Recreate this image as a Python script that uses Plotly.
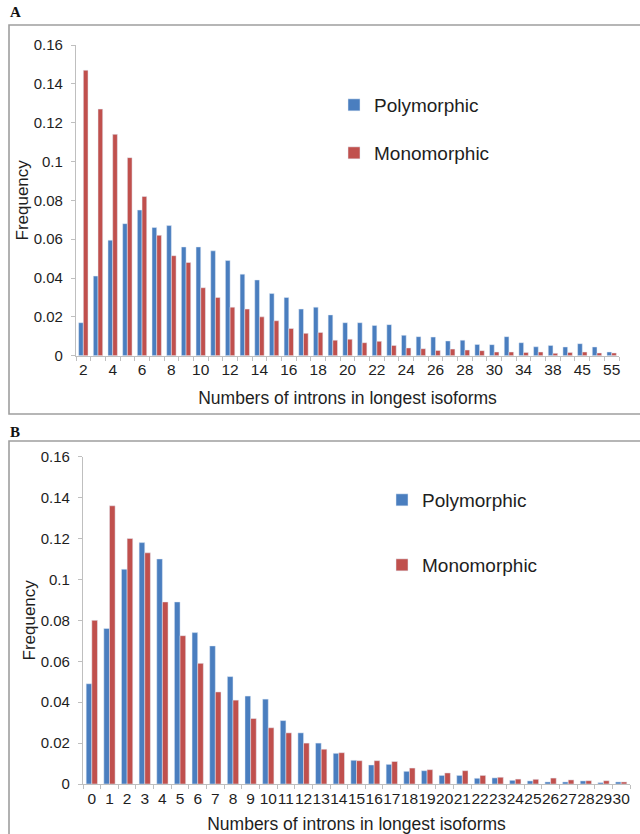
import plotly.graph_objects as go

# ---------------- data ----------------
cats_a = [str(v) for v in range(2, 31)] + ["32", "34", "36", "38", "40", "45", "50", "55"]
tick_labels_a = ["2", "4", "6", "8", "10", "12", "14", "16", "18", "20", "22", "24", "26", "28", "30",
                 "34", "38", "45", "55"]
poly_a = [0.017, 0.041, 0.0595, 0.068, 0.075, 0.066, 0.067, 0.056, 0.056, 0.054,
          0.049, 0.042, 0.039, 0.032, 0.030, 0.024, 0.025, 0.021, 0.017, 0.017,
          0.0156, 0.016, 0.0105, 0.0098, 0.0096, 0.0076, 0.008, 0.0058, 0.0057,
          0.0098, 0.0067, 0.0046, 0.0053, 0.0045, 0.0062, 0.0045, 0.0019]
mono_a = [0.147, 0.127, 0.114, 0.102, 0.082, 0.062, 0.0515, 0.048, 0.035, 0.030,
          0.025, 0.024, 0.020, 0.018, 0.014, 0.0115, 0.012, 0.008, 0.0085, 0.0067,
          0.0074, 0.0053, 0.004, 0.0036, 0.0027, 0.0034, 0.0029, 0.0026, 0.0019,
          0.0019, 0.0017, 0.0019, 0.0012, 0.0017, 0.0019, 0.0014, 0.0014]

cats_b = [str(v) for v in range(0, 31)]
poly_b = [0.049, 0.076, 0.105, 0.118, 0.110, 0.089, 0.074, 0.0675, 0.0525, 0.043,
          0.0415, 0.031, 0.025, 0.020, 0.015, 0.0116, 0.0093, 0.0096, 0.0062, 0.0065,
          0.0042, 0.0042, 0.0028, 0.003, 0.0018, 0.0015, 0.001, 0.001, 0.0015, 0.0007, 0.001]
mono_b = [0.080, 0.136, 0.120, 0.113, 0.089, 0.0725, 0.059, 0.045, 0.041, 0.032,
          0.0275, 0.025, 0.020, 0.017, 0.0153, 0.0114, 0.0114, 0.011, 0.0078, 0.007,
          0.0054, 0.0065, 0.0042, 0.0033, 0.0024, 0.0023, 0.0029, 0.002, 0.0016, 0.0016, 0.001]

y_ticks = [0, 0.02, 0.04, 0.06, 0.08, 0.1, 0.12, 0.14, 0.16]
y_tick_text = ["0", "0.02", "0.04", "0.06", "0.08", "0.1", "0.12", "0.14", "0.16"]

series_names = ["Polymorphic", "Monomorphic"]
x_title = "Numbers of introns in longest isoforms"
y_title = "Frequency"

# ---------------- style ----------------
W, H = 640, 834
BLUE = "#4A7EBF"
RED = "#C0504D"
FONT = "Liberation Sans, Arial, sans-serif"
TXT = "#1E1E1E"
AX = "#BFBFBF"


def py(px):
    return 1 - px / H


def pxx(px):
    return px / W


fig = go.Figure()

fig.add_trace(go.Bar(x=cats_a, y=poly_a, name=series_names[0], marker_color=BLUE,
                     xaxis="x", yaxis="y", legend="legend"))
fig.add_trace(go.Bar(x=cats_a, y=mono_a, name=series_names[1], marker_color=RED,
                     xaxis="x", yaxis="y", legend="legend2"))
fig.add_trace(go.Bar(x=cats_b, y=poly_b, name=series_names[0], marker_color=BLUE,
                     xaxis="x2", yaxis="y2", legend="legend3"))
fig.add_trace(go.Bar(x=cats_b, y=mono_b, name=series_names[1], marker_color=RED,
                     xaxis="x2", yaxis="y2", legend="legend4"))

tick_text_a = [c if c in tick_labels_a and i % 2 == 0 else "" for i, c in enumerate(cats_a)]

common_x = dict(type="category", showline=True, linecolor=AX, linewidth=1.3,
                ticks="outside", tickson="boundaries", ticklen=4, tickcolor=AX,
                tickangle=0, showgrid=False, zeroline=False, automargin=False,
                tickfont=dict(family=FONT, size=15.5, color=TXT))
common_y = dict(range=[0, 0.16], tickmode="array", tickvals=y_ticks, ticktext=y_tick_text,
                showline=True, linecolor=AX, linewidth=1.3, ticks="outside", ticklen=4,
                tickcolor=AX, showgrid=False, zeroline=False, ticklabelstandoff=5,
                automargin=False,
                tickfont=dict(family=FONT, size=15, color=TXT),
                title=dict(text=y_title, font=dict(family=FONT, size=17, color=TXT), standoff=0))

fig.update_layout(
    width=W, height=H,
    margin=dict(l=0, r=0, t=0, b=0, autoexpand=False),
    paper_bgcolor="white", plot_bgcolor="white",
    barmode="group", bargap=0.36, bargroupgap=0.0,
    showlegend=True,
    font=dict(family=FONT, color=TXT),
    xaxis=dict(domain=[pxx(76), pxx(619)], anchor="y",
               tickmode="array", tickvals=cats_a, ticktext=tick_text_a,
               title=dict(text=x_title, font=dict(family=FONT, size=17.5, color=TXT), standoff=14),
               **common_x),
    yaxis=dict(domain=[py(355.7), py(45)], anchor="x", **common_y),
    xaxis2=dict(domain=[pxx(83), pxx(630)], anchor="y2",
                tickmode="array", tickvals=cats_b, ticktext=cats_b,
                title=dict(text=x_title, font=dict(family=FONT, size=17.5, color=TXT), standoff=14),
                **common_x),
    yaxis2=dict(domain=[py(784), py(456.7)], anchor="x2", **common_y),
)

leg_font = dict(family=FONT, size=19, color=TXT)
leg_common = dict(xanchor="left", yanchor="middle", bgcolor="rgba(0,0,0,0)",
                  font=leg_font, borderwidth=0)
fig.update_layout(
    legend=dict(x=pxx(334), y=py(105), **leg_common),
    legend2=dict(x=pxx(334), y=py(153), **leg_common),
    legend3=dict(x=pxx(382), y=py(500), **leg_common),
    legend4=dict(x=pxx(382), y=py(565), **leg_common),
)

# panel frames
fig.add_shape(type="rect", xref="paper", yref="paper",
              x0=pxx(9), x1=pxx(648), y0=py(414), y1=py(25),
              line=dict(color="#9E9E9E", width=1.6), fillcolor="rgba(0,0,0,0)", layer="below")
fig.add_shape(type="rect", xref="paper", yref="paper",
              x0=pxx(9), x1=pxx(648), y0=py(842), y1=py(441),
              line=dict(color="#9E9E9E", width=1.6), fillcolor="rgba(0,0,0,0)", layer="below")

# panel letters
for letter, ypx in [("A", 12), ("B", 432)]:
    fig.add_annotation(text="<b>%s</b>" % letter, xref="paper", yref="paper",
                       x=pxx(8), y=py(ypx), xanchor="left", yanchor="middle",
                       showarrow=False,
                       font=dict(family="Liberation Serif, Times New Roman, serif", size=15, color="#111111"))

fig.write_html("out.html")
